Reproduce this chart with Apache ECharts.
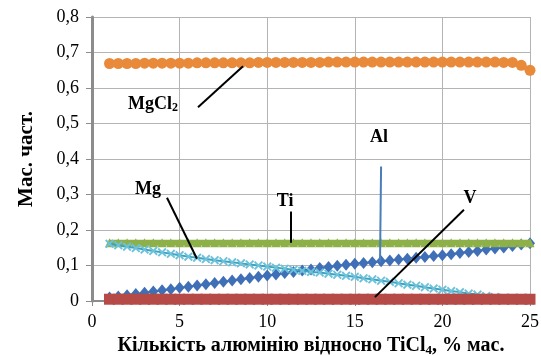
<!DOCTYPE html>
<html><head><meta charset="utf-8">
<script src="https://cdn.jsdelivr.net/npm/echarts@6/dist/echarts.min.js"></script>
<style>html,body{margin:0;padding:0;background:#fff}#c{width:541px;height:356px}</style>
</head><body><div id="c"></div>
<script>
var xs = [1,1.5,2,2.5,3,3.5,4,4.5,5,5.5,6,6.5,7,7.5,8,8.5,9,9.5,10,10.5,11,11.5,12,12.5,13,13.5,14,14.5,15,15.5,16,16.5,17,17.5,18,18.5,19,19.5,20,20.5,21,21.5,22,22.5,23,23.5,24,24.5,25];
var mgcl2 = [0.669,0.669,0.669,0.669,0.670,0.670,0.670,0.670,0.670,0.670,0.671,0.671,0.671,0.671,0.671,0.671,0.671,0.672,0.672,0.672,0.672,0.672,0.672,0.672,0.672,0.673,0.673,0.673,0.673,0.673,0.673,0.673,0.673,0.673,0.673,0.673,0.673,0.673,0.673,0.673,0.673,0.673,0.673,0.673,0.673,0.672,0.672,0.664,0.650];
var ti = [0.164,0.164,0.164,0.164,0.164,0.164,0.164,0.164,0.164,0.164,0.164,0.164,0.164,0.164,0.164,0.164,0.164,0.164,0.164,0.164,0.164,0.164,0.164,0.164,0.164,0.164,0.164,0.164,0.164,0.164,0.164,0.164,0.164,0.164,0.164,0.164,0.164,0.164,0.164,0.164,0.164,0.164,0.164,0.164,0.164,0.164,0.164,0.164,0.164];
var mg = [0.161,0.157,0.153,0.149,0.145,0.141,0.137,0.133,0.129,0.125,0.122,0.118,0.115,0.112,0.109,0.106,0.103,0.100,0.097,0.094,0.091,0.088,0.085,0.082,0.080,0.077,0.074,0.071,0.068,0.064,0.061,0.057,0.054,0.050,0.046,0.043,0.039,0.035,0.032,0.028,0.025,0.021,0.018,0.014,0.011,0.008,0.005,0.003,0.001];
var al = [0.010,0.013,0.016,0.020,0.023,0.027,0.030,0.033,0.037,0.040,0.044,0.047,0.051,0.054,0.058,0.061,0.065,0.068,0.072,0.075,0.079,0.082,0.086,0.089,0.093,0.096,0.099,0.102,0.105,0.107,0.109,0.112,0.114,0.117,0.119,0.122,0.124,0.127,0.129,0.132,0.135,0.138,0.141,0.145,0.148,0.151,0.155,0.159,0.163];
var v = [0.005,0.005,0.005,0.005,0.005,0.005,0.005,0.005,0.005,0.005,0.005,0.005,0.005,0.005,0.005,0.005,0.005,0.005,0.005,0.005,0.005,0.005,0.005,0.005,0.005,0.005,0.005,0.005,0.005,0.005,0.005,0.005,0.005,0.005,0.005,0.005,0.005,0.005,0.005,0.005,0.005,0.005,0.005,0.005,0.005,0.005,0.005,0.005,0.005];
// annotation labels (data coords) and leader lines
var labels = [
  {text:'{b|MgCl}{s|2}', at:[3.48,0.554]},
  {text:'{b|Mg}', at:[3.2,0.314]},
  {text:'{b|Ti}', at:[11.02,0.281]},
  {text:'{b|Al}', at:[16.38,0.461]},
  {text:'{b|V}', at:[21.58,0.288]}
];
var leaders = [
  {from:[6.05,0.546], to:[8.62,0.661], color:'#000'},
  {from:[4.28,0.291], to:[5.99,0.119], color:'#000'},
  {from:[11.36,0.252], to:[11.36,0.164], color:'#000'},
  {from:[16.5,0.379], to:[16.44,0.110], color:'#4a7ebb'},
  {from:[21.23,0.257], to:[16.15,0.011], color:'#000'}
];

function pairs(ys){ return xs.map(function(x,i){return [x, ys[i]];}); }
var serif = "'Liberation Serif', 'Times New Roman', serif";
var tickRich = {t:{fontFamily:serif, fontSize:18, color:'#000'}};
var chart = echarts.init(document.getElementById('c'), null, {renderer:'canvas'});
var xMark = 'path://M0,1.5L1.5,0L5,3.5L8.5,0L10,1.5L6.5,5L10,8.5L8.5,10L5,6.5L1.5,10L0,8.5L3.5,5Z';
chart.setOption({
  animation:false,
  backgroundColor:'#fff',
  textStyle:{fontFamily:serif},
  grid:{left:92, right:11, top:17, bottom:55, containLabel:false, outerBoundsMode:'none'},
  xAxis:{type:'value', min:0, max:25, interval:5,
    name:'{b|Кількість алюмінію відносно TiCl}{s|4}{b|, % мас.}',
    nameLocation:'middle', nameGap:32,
    nameTextStyle:{rich:{b:{fontFamily:serif, fontWeight:'bold', fontSize:20, color:'#000'}, s:{fontFamily:serif, fontWeight:'bold', fontSize:13, color:'#000', padding:[9,0,0,0]}}},
    axisLine:{show:true, onZero:false, lineStyle:{color:'#8c8c8c', width:2}},
    axisTick:{show:true, inside:false, length:5, lineStyle:{color:'#8c8c8c', width:1}},
    axisLabel:{margin:12, rich:tickRich, formatter:function(val){ return '{t|' + val + '}'; }},
    splitLine:{show:true, lineStyle:{color:'#b4b4b4', width:1}}
  },
  yAxis:{type:'value', min:0, max:0.8, interval:0.1,
    name:'{b|Мас. част.}', nameLocation:'middle', nameGap:55,
    nameTextStyle:{rich:{b:{fontFamily:serif, fontWeight:'bold', fontSize:21, color:'#000'}}},
    axisLine:{show:true, lineStyle:{color:'#8c8c8c', width:3}},
    axisTick:{show:true, inside:false, length:6, lineStyle:{color:'#8c8c8c', width:1}},
    axisLabel:{margin:13, rich:tickRich,
      formatter:function(val){ return '{t|' + (Math.round(val*10)/10).toString().replace('.', ',') + '}'; }},
    splitLine:{show:true, lineStyle:{color:'#b4b4b4', width:1}}
  },
  series:[
    {name:'Al', type:'line', data:pairs(al), z:3, symbol:'diamond', symbolSize:[10,12],
      lineStyle:{color:'#4472c4', width:2}, itemStyle:{color:'#3f6fb6'}},
    {name:'Ti', type:'line', data:pairs(ti), z:4, symbol:'triangle', symbolSize:9,
      lineStyle:{color:'#8db048', width:6}, itemStyle:{color:'#8db048'}},
    {name:'Mg', type:'line', data:pairs(mg), z:5, symbol:xMark, symbolSize:9,
      lineStyle:{color:'#3fa3c0', width:2}, itemStyle:{color:'#6cc2db'}},
    {name:'V', type:'line', data:pairs(v), z:6, symbol:'rect', symbolSize:11,
      lineStyle:{color:'#b54a47', width:2}, itemStyle:{color:'#b54a47'}},
    {name:'MgCl2', type:'line', data:pairs(mgcl2), z:7, symbol:'circle', symbolSize:11,
      lineStyle:{color:'#e98a3b', width:2}, itemStyle:{color:'#e98a3b'}}
  ]
});
var g = [];
leaders.forEach(function(l){
  var a = chart.convertToPixel({gridIndex:0}, l.from);
  var b = chart.convertToPixel({gridIndex:0}, l.to);
  g.push({type:'line', z:100, shape:{x1:a[0], y1:a[1], x2:b[0], y2:b[1]}, style:{stroke:l.color, lineWidth:2}});
});
labels.forEach(function(t){
  var p = chart.convertToPixel({gridIndex:0}, t.at);
  g.push({type:'text', z:100, x:p[0], y:p[1], style:{text:t.text, align:'center', verticalAlign:'middle',
    rich:{b:{fontFamily:serif, fontWeight:'bold', fontSize:18, fill:'#000', color:'#000'},
          s:{fontFamily:serif, fontWeight:'bold', fontSize:12, fill:'#000', color:'#000', padding:[8,0,0,0]}}}});
});
chart.setOption({graphic:g});
</script></body></html>
